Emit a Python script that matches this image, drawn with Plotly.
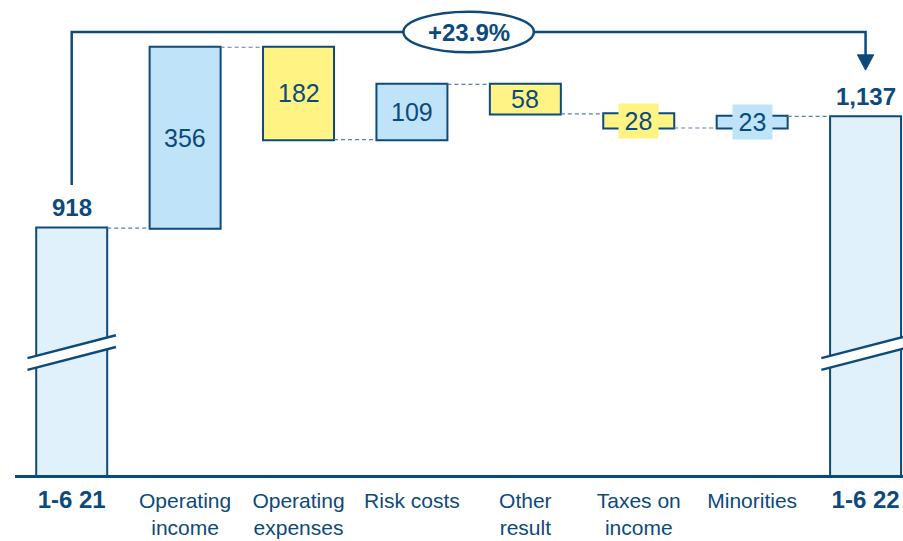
import plotly.graph_objects as go

# ---- data ----
categories = ["1-6 21", "Operating<br>income", "Operating<br>expenses", "Risk costs",
              "Other<br>result", "Taxes on<br>income", "Minorities", "1-6 22"]
tick_text = ["<b><span style='font-size:24px'>1-6 21</span></b>", "Operating<br>income",
             "Operating<br>expenses", "Risk costs", "Other<br>result", "Taxes on<br>income",
             "Minorities", "<b><span style='font-size:24px'>1-6 22</span></b>"]
values = [918, 356, -182, 109, -58, -28, 23, 1137]
measures = ["absolute", "relative", "relative", "relative", "relative", "relative", "relative", "absolute"]
value_labels = ["918", "356", "182", "109", "58", "28", "23", "1,137"]
change_label = "+23.9%"

# ---- style ----
DARK = "#0d4a7c"
BLUE = "#bfe4f9"
PALE = "#e0f1fc"
YELLOW = "#fff383"
CONN = "#5c80a3"
FONT = "Liberation Sans, Arial, sans-serif"
Y_MIN, Y_MAX = 432, 1367
BRACKET_Y = 1304

fig = go.Figure(go.Waterfall(
    x=categories, y=values, measure=measures,
    increasing=dict(marker=dict(color=BLUE, line=dict(color=DARK, width=2))),
    decreasing=dict(marker=dict(color=YELLOW, line=dict(color=DARK, width=2))),
    totals=dict(marker=dict(color=PALE, line=dict(color=DARK, width=2))),
    connector=dict(mode="between", line=dict(color=CONN, width=1.2, dash="4px,3px")),
    textposition="none", hoverinfo="skip",
))

# cumulative levels
levels = []
cur = 0
for v, m in zip(values, measures):
    if m == "absolute":
        start, cur = 0, v
    else:
        start, cur = cur, cur + v
    levels.append((start, cur))

annotations = []
shapes = []
n = len(categories)
for i, ((a, b), lab) in enumerate(zip(levels, value_labels)):
    if measures[i] == "absolute":
        annotations.append(dict(x=i, y=b, text=f"<b>{lab}</b>", showarrow=False,
                                yanchor="bottom", yshift=5,
                                font=dict(family=FONT, size=24, color=DARK)))
    else:
        mid = (a + b) / 2
        fill = BLUE if b > a else YELLOW
        small = abs(b - a) < 40
        ann = dict(x=i, y=mid, text=lab, showarrow=False,
                   font=dict(family=FONT, size=25, color=DARK))
        if small:
            ann.update(bgcolor=fill, width=37, height=32)
        annotations.append(ann)

# axis breaks on start and end bars
for i in (0, n - 1):
    x0, x1 = i - 0.39, i + 0.39
    shapes.append(dict(type="path", xref="x", yref="y",
                       path=f"M {x0},{662} L {x1},{707} L {x1},{684} L {x0},{639} Z",
                       fillcolor="white", line=dict(width=0), layer="above"))
    shapes.append(dict(type="line", xref="x", yref="y", x0=x0, y0=662, x1=x1, y1=707,
                       line=dict(color=DARK, width=2.5), layer="above"))
    shapes.append(dict(type="line", xref="x", yref="y", x0=x0, y0=639, x1=x1, y1=684,
                       line=dict(color=DARK, width=2.5), layer="above"))

# bracket arrow
start_top = levels[0][1] + 85
end_tip = levels[-1][1] + 92
shapes.append(dict(type="path", xref="x", yref="y",
                   path=f"M 0,{start_top} L 0,{BRACKET_Y} L {n-1},{BRACKET_Y} L {n-1},{end_tip + 25}",
                   line=dict(color=DARK, width=2.5), layer="above"))
shapes.append(dict(type="path", xref="x", yref="y",
                   path=f"M {n-1-0.072},{end_tip + 30} L {n-1+0.072},{end_tip + 30} L {n-1},{end_tip} Z",
                   fillcolor=DARK, line=dict(color=DARK, width=1), layer="above"))
mid_x = (n - 1) / 2
shapes.append(dict(type="circle", xref="x", yref="y",
                   x0=mid_x - 0.575, x1=mid_x + 0.575, y0=BRACKET_Y - 40, y1=BRACKET_Y + 40,
                   fillcolor="white", line=dict(color=DARK, width=2.5), layer="above"))
annotations.append(dict(x=mid_x, y=BRACKET_Y, text=f"<b>{change_label}</b>", showarrow=False,
                        font=dict(family=FONT, size=24, color=DARK)))

fig.update_layout(
    width=903, height=541,
    margin=dict(l=15, r=0, t=0, b=66),
    paper_bgcolor="white", plot_bgcolor="white",
    showlegend=False, waterfallgap=0.374,
    annotations=annotations, shapes=shapes,
    font=dict(family=FONT, color=DARK),
    xaxis=dict(type="category", tickmode="array", tickvals=categories, ticktext=tick_text,
               range=[-0.5, 7.33], showline=True, linecolor=DARK, linewidth=2.5,
               showgrid=False, zeroline=False, ticks="", automargin=False,
               ticklabelstandoff=5,
               tickfont=dict(family=FONT, size=21, color=DARK)),
    yaxis=dict(range=[Y_MIN, Y_MAX], visible=False, showgrid=False, zeroline=False,
               automargin=False),
)

fig.write_html("out.html", config={"displayModeBar": False},
               post_script="document.body.style.margin='0';")
